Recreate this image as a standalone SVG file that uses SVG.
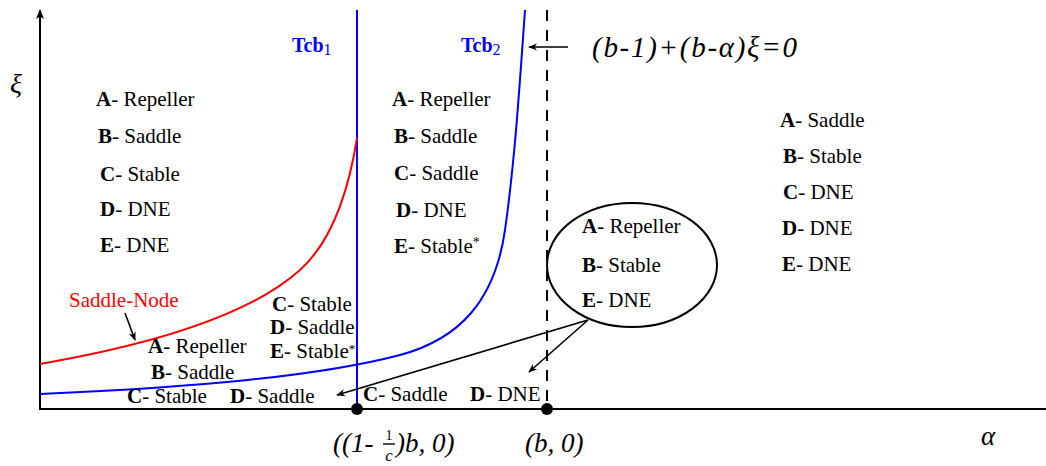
<svg xmlns="http://www.w3.org/2000/svg" width="1046" height="466" viewBox="0 0 1046 466">
<style>
.t{font-family:"Liberation Serif","Times New Roman",serif;font-size:21px;fill:#000}
.t tspan.b{font-weight:bold}
.m{font-family:"Liberation Serif","Times New Roman",serif;font-style:italic;fill:#000}
.lbl{font-family:"Liberation Serif","Times New Roman",serif;font-weight:bold;font-size:20px;fill:#0000ff}
.ax{stroke:#000;stroke-width:2;fill:none}
.arr{stroke:#000;stroke-width:1.6;fill:none;marker-end:url(#ah)}
</style>
<defs>
<marker id="ah" viewBox="0 0 10 10" refX="9" refY="5" markerWidth="9" markerHeight="9" markerUnits="userSpaceOnUse" orient="auto">
<path d="M0,1 L10,5 L0,9 L3,5 Z" fill="#000"/>
</marker>
<marker id="axh" viewBox="0 0 10 10" refX="9" refY="5" markerWidth="10" markerHeight="10" markerUnits="userSpaceOnUse" orient="auto">
<path d="M0,1 L10,5 L0,9 L2.5,5 Z" fill="#000"/>
</marker>
</defs>
<rect width="1046" height="466" fill="#fff"/>
<g id="axes">
<line class="ax" x1="40" y1="409" x2="40" y2="10" marker-end="url(#axh)"/>
<line class="ax" x1="39" y1="409" x2="1046" y2="409"/>
<text class="m" x="10" y="93" font-size="28">ξ</text>
<text class="m" x="981" y="445" font-size="27">α</text>
</g>
<g id="curves">
<line x1="357" y1="10" x2="357" y2="409" stroke="#0000ff" stroke-width="2"/>
<line x1="547" y1="10" x2="547" y2="409" stroke="#000" stroke-width="2" stroke-dasharray="11 9"/>
<path d="M40,364 C150,345 250,315 300,270 C330,243 348,195 357,138" stroke="#ff0000" stroke-width="2" fill="none"/>
<path d="M40,394 C200,387 320,376 400,355 C460,339 495,300 505,230 C515,160 520,80 525,10" stroke="#0000ff" stroke-width="2" fill="none"/>
<circle cx="357" cy="409" r="6" fill="#000"/>
<circle cx="547" cy="409" r="6" fill="#000"/>
</g>
<g id="connectors">
<line class="arr" x1="568" y1="47" x2="529" y2="47"/>
<line class="arr" x1="125" y1="313" x2="135" y2="340"/>
<line class="arr" x1="588" y1="320" x2="337" y2="395"/>
<line class="arr" x1="588" y1="320" x2="529" y2="372"/>
</g>
<g id="labels">
<text class="lbl" x="292" y="52">Tcb<tspan font-weight="normal" font-size="16" dy="3">1</tspan></text>
<text class="lbl" x="461" y="52">Tcb<tspan font-weight="normal" font-size="16" dy="3">2</tspan></text>
<text class="m" x="592" y="57" font-size="29" textLength="205" lengthAdjust="spacing">(b-1)+(b-α)ξ=0</text>
<text x="69" y="307" font-family="Liberation Serif, Times New Roman, serif" font-size="21" fill="#ff0000">Saddle-Node</text>
</g>
<g id="region-left">
<text class="t" x="96" y="106"><tspan class="b">A</tspan>- Repeller</text>
<text class="t" x="98" y="143"><tspan class="b">B</tspan>- Saddle</text>
<text class="t" x="100" y="181"><tspan class="b">C</tspan>- Stable</text>
<text class="t" x="100" y="216"><tspan class="b">D</tspan>- DNE</text>
<text class="t" x="100" y="252"><tspan class="b">E</tspan>- DNE</text>
</g>
<g id="region-middle">
<text class="t" x="392" y="106"><tspan class="b">A</tspan>- Repeller</text>
<text class="t" x="394" y="143"><tspan class="b">B</tspan>- Saddle</text>
<text class="t" x="394" y="180"><tspan class="b">C</tspan>- Saddle</text>
<text class="t" x="396" y="217"><tspan class="b">D</tspan>- DNE</text>
<text class="t" x="394" y="253"><tspan class="b">E</tspan>- Stable<tspan font-size="14" dy="-6">*</tspan></text>
</g>
<g id="region-right">
<text class="t" x="780" y="127"><tspan class="b">A</tspan>- Saddle</text>
<text class="t" x="783" y="163"><tspan class="b">B</tspan>- Stable</text>
<text class="t" x="783" y="199"><tspan class="b">C</tspan>- DNE</text>
<text class="t" x="782" y="235"><tspan class="b">D</tspan>- DNE</text>
<text class="t" x="782" y="271"><tspan class="b">E</tspan>- DNE</text>
</g>
<g id="region-ellipse">
<ellipse cx="632" cy="265" rx="85" ry="62" fill="none" stroke="#000" stroke-width="2"/>
<text class="t" x="582" y="233"><tspan class="b">A</tspan>- Repeller</text>
<text class="t" x="582" y="272"><tspan class="b">B</tspan>- Stable</text>
<text class="t" x="582" y="307"><tspan class="b">E</tspan>- DNE</text>
</g>
<g id="region-bottom-left">
<text class="t" x="148" y="353"><tspan class="b">A</tspan>- Repeller</text>
<text class="t" x="151" y="379"><tspan class="b">B</tspan>- Saddle</text>
<text class="t" x="127" y="403"><tspan class="b">C</tspan>- Stable</text>
<text class="t" x="230" y="403"><tspan class="b">D</tspan>- Saddle</text>
</g>
<g id="region-bottom-mid">
<text class="t" x="272" y="311"><tspan class="b">C</tspan>- Stable</text>
<text class="t" x="270" y="334"><tspan class="b">D</tspan>- Saddle</text>
<text class="t" x="270" y="358"><tspan class="b">E</tspan>- Stable<tspan font-size="13" dy="-5">*</tspan></text>
</g>
<g id="region-bottom-right">
<text class="t" x="363" y="401"><tspan class="b">C</tspan>- Saddle</text>
<text class="t" x="470" y="401"><tspan class="b">D</tspan>- DNE</text>
</g>
<g id="ticks">
<text class="m" x="333" y="452" font-size="27">((1-</text>
<text x="389" y="440" style="font-family:'Liberation Serif',serif;font-size:14px" text-anchor="middle">1</text>
<line x1="383" y1="444" x2="395" y2="444" stroke="#000" stroke-width="1.4"/>
<text x="389" y="461" style="font-family:'Liberation Serif',serif;font-style:italic;font-size:17px" text-anchor="middle">c</text>
<text class="m" x="396" y="452" font-size="27">)b, 0)</text>
<text class="m" x="525" y="452" font-size="27">(b, 0)</text>
</g>
</svg>
